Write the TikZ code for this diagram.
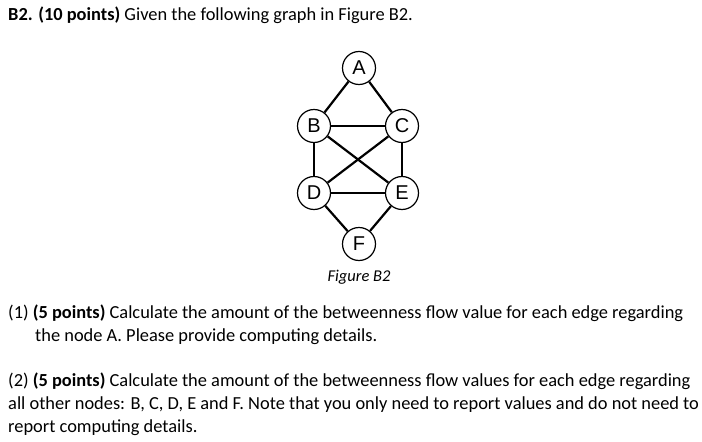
\documentclass[tikz,border=0pt]{standalone}
\usepackage{fontspec}
\setmainfont{Carlito}
\newfontfamily\arialf{Liberation Sans}
\begin{document}
\begin{tikzpicture}[x=1pt,y=-1pt,
  vtx/.style={circle,draw,line width=1.2pt,minimum size=33pt,inner sep=0pt,font=\fontsize{20}{22}\selectfont\arialf},
  edge/.style={line width=2.2pt},
  txt/.style={anchor=west,inner sep=0pt,font=\fontsize{18.4}{20}\selectfont}]
\useasboundingbox (0,0) rectangle (702,442);
\fill[white] (0,0) rectangle (702,442);
\node[vtx] (A) at (359,68) {A};
\node[vtx] (B) at (314,126) {B};
\node[vtx] (C) at (402,126) {C};
\node[vtx] (D) at (314,193) {D};
\node[vtx] (E) at (402,193) {E};
\node[vtx] (F) at (359,244) {F};
\foreach \a/\b in {A/B,A/C,B/C,B/D,C/E,B/E,C/D,D/E,D/F,E/F}
  \draw[edge] (\a) -- (\b);
\node[txt] (t1) at (8,15) {\textbf{B2. (10 points)} Given the following graph in Figure B2.};
\node[inner sep=0pt,font=\fontsize{16.5}{18}\selectfont\itshape] (cap) at (359,277) {Figure B2};
\node[txt] (t2) at (8,313) {(1) \textbf{(5 points)} Calculate the amount of the betweenness flow value for each edge regarding};
\node[txt] (t3) at (35,337) {the node A. Please provide computing details.};
\node[txt] (t4) at (8,381) {(2) \textbf{(5 points)} Calculate the amount of the betweenness flow values for each edge regarding};
\node[txt] (t5) at (8,405) {all other nodes: B, C, D, E and F. Note that you only need to report values and do not need to};
\node[txt] (t6) at (8,428) {report computing details.};
\end{tikzpicture}
\end{document}
